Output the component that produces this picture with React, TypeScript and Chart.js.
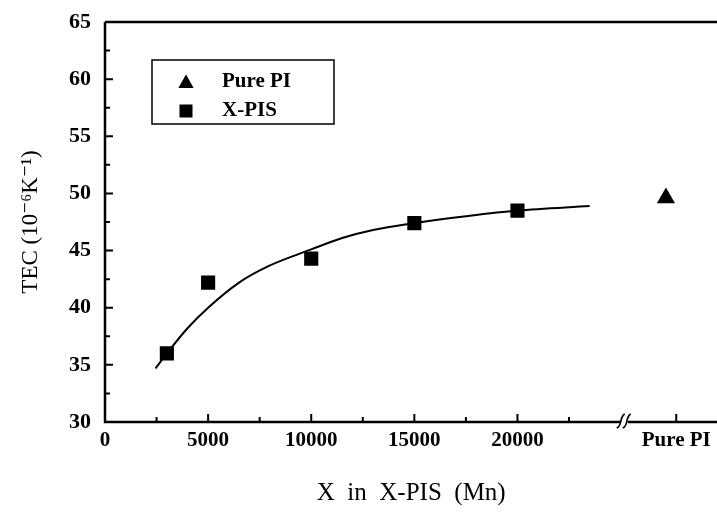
import React, { useEffect, useRef } from "react";
import { Chart, registerables } from "chart.js";

Chart.register(...registerables);

// X-PIS measured TEC values
const xpisMn = [3000, 5000, 10000, 15000, 20000];
const xpisTec = [36.0, 42.2, 44.3, 47.4, 48.5];
// Pure PI (placed after the axis break)
const purePiX = [27200];
const purePiTec = [49.6];
// fitted curve
const fitMn = [2450, 3000, 4000, 5000, 6500, 8000, 10000, 11500, 13000, 15000, 17500, 20000, 23500];
const fitTec = [34.7, 36.0, 38.2, 40.0, 42.2, 43.7, 45.1, 46.1, 46.8, 47.4, 48.0, 48.5, 48.9];
// axes
const xTickValues = [0, 5000, 10000, 15000, 20000, 27700];
const xTickLabels = ["0", "5000", "10000", "15000", "20000", "Pure PI"];
const xMinorTicks = [2500, 7500, 12500, 17500, 22500];
const xBreakAt = 25200;
const xMin = 0;
const xMax = 29700;
const yMin = 30;
const yMax = 65;
const yStep = 5;
const legendLabels = ["Pure PI", "X-PIS"];

const FONT = "'Liberation Serif', 'DejaVu Serif', serif";

const framePlugin = {
  id: "frame",
  afterDraw(chart: any) {
    const { ctx, chartArea } = chart;
    const xs = chart.scales.x;
    const ys = chart.scales.y;
    const { left, right, top, bottom } = chartArea;
    ctx.save();
    ctx.strokeStyle = "#000";
    ctx.lineWidth = 2.5;
    ctx.beginPath();
    ctx.moveTo(left, top);
    ctx.lineTo(right, top);
    ctx.moveTo(left, top);
    ctx.lineTo(left, bottom);
    ctx.lineTo(right, bottom);
    ctx.stroke();

    // y ticks inward
    ctx.lineWidth = 2;
    ctx.beginPath();
    for (let v = yMin; v <= yMax + 0.001; v += yStep / 2) {
      const py = ys.getPixelForValue(v);
      const major = Math.abs(v / yStep - Math.round(v / yStep)) < 1e-6;
      ctx.moveTo(left, py);
      ctx.lineTo(left + (major ? 8 : 5), py);
    }
    // x ticks inward
    xTickValues.forEach((v) => {
      if (v === 0) return;
      const px = xs.getPixelForValue(v);
      ctx.moveTo(px, bottom);
      ctx.lineTo(px, bottom - 8);
    });
    xMinorTicks.forEach((v) => {
      const px = xs.getPixelForValue(v);
      ctx.moveTo(px, bottom);
      ctx.lineTo(px, bottom - 5);
    });
    ctx.stroke();

    // axis break mark
    const bx = xs.getPixelForValue(xBreakAt);
    ctx.fillStyle = "#fff";
    ctx.fillRect(bx - 4, bottom - 3, 7, 6);
    ctx.lineWidth = 1.6;
    [-3, 3].forEach((dx) => {
      const cx = bx + dx;
      ctx.beginPath();
      ctx.moveTo(cx - 5, bottom + 6);
      ctx.bezierCurveTo(cx + 1, bottom + 4, cx - 3, bottom - 4, cx + 3, bottom - 8);
      ctx.stroke();
    });

    // legend box
    const lx = 152, ly = 60, lw = 182, lh = 64;
    ctx.lineWidth = 1.5;
    ctx.strokeRect(lx, ly, lw, lh);
    ctx.fillStyle = "#000";
    // triangle
    const tx = 186, ty = 83, tr = 8.5;
    ctx.beginPath();
    ctx.moveTo(tx, ty - tr);
    ctx.lineTo(tx + tr * 0.9, ty + tr * 0.6);
    ctx.lineTo(tx - tr * 0.9, ty + tr * 0.6);
    ctx.closePath();
    ctx.fill();
    // square
    ctx.fillRect(186 - 6.5, 111 - 6.5, 13, 13);
    ctx.font = `bold 21px ${FONT}`;
    ctx.textBaseline = "middle";
    ctx.textAlign = "left";
    ctx.fillText(legendLabels[0], 222, 82);
    ctx.fillText(legendLabels[1], 222, 111);
    ctx.restore();
  },
};

const CANVAS_W = 728;

export default function App() {
  const ref = useRef<HTMLCanvasElement | null>(null);

  useEffect(() => {
    document.body.style.margin = "0";
    const canvas = ref.current;
    if (!canvas) return;
    const chart = new Chart(canvas, {
      type: "scatter",
      data: {
        datasets: [
          {
            label: "fit",
            data: fitMn.map((x, i) => ({ x, y: fitTec[i] })),
            showLine: true,
            borderColor: "#000",
            borderWidth: 2,
            pointRadius: 0,
            tension: 0.4,
            cubicInterpolationMode: "monotone",
            fill: false,
          } as any,
          {
            label: legendLabels[1],
            data: xpisMn.map((x, i) => ({ x, y: xpisTec[i] })),
            pointStyle: "rect",
            pointRadius: 10,
            backgroundColor: "#000",
            borderColor: "#000",
            borderWidth: 0,
          },
          {
            label: legendLabels[0],
            data: purePiX.map((x, i) => ({ x, y: purePiTec[i] })),
            pointStyle: "triangle",
            pointRadius: 10.5,
            backgroundColor: "#000",
            borderColor: "#000",
            borderWidth: 0,
          },
        ],
      },
      options: {
        animation: false,
        responsive: false,
        layout: { padding: { top: 22, right: 0, left: 0, bottom: 0 } },
        plugins: {
          legend: { display: false },
          tooltip: { enabled: false },
        },
        scales: {
          x: {
            type: "linear",
            min: xMin,
            max: xMax,
            grid: { display: false, drawTicks: false },
            border: { display: false },
            afterBuildTicks: (scale: any) => {
              scale.ticks = xTickValues.map((v) => ({ value: v }));
            },
            afterFit: (scale: any) => {
              scale.height = 95;
              scale.paddingRight = 0;
              scale.paddingLeft = 0;
            },
            ticks: {
              color: "#000",
              font: { family: FONT, size: 21, weight: "bold" },
              padding: 6,
              maxRotation: 0,
              autoSkip: false,
              callback: (v: any) => {
                const i = xTickValues.indexOf(Number(v));
                return i >= 0 ? xTickLabels[i] : "";
              },
            },
            title: {
              display: true,
              text: "X  in  X-PIS  (Mn)",
              color: "#000",
              font: { family: FONT, size: 25 },
              padding: { top: 0, bottom: 9 },
            },
          },
          y: {
            type: "linear",
            min: yMin,
            max: yMax,
            grid: { display: false, drawTicks: false },
            border: { display: false },
            afterFit: (scale: any) => {
              scale.width = 105;
              scale.paddingTop = 0;
              scale.paddingBottom = 0;
            },
            ticks: {
              stepSize: yStep,
              color: "#000",
              font: { family: FONT, size: 22, weight: "bold" },
              padding: 14,
            },
            title: {
              display: true,
              text: "TEC (10⁻⁶K⁻¹)",
              color: "#000",
              font: { family: FONT, size: 23 },
              padding: { top: 17, bottom: 0 },
            },
          },
        },
      },
      plugins: [framePlugin],
    });
    return () => chart.destroy();
  }, []);

  return (
    <div
      style={{
        position: "fixed",
        left: 0,
        top: 0,
        width: 717,
        height: 517,
        overflow: "hidden",
        background: "#fff",
      }}
    >
      <canvas ref={ref} width={CANVAS_W} height={517} />
    </div>
  );
}
